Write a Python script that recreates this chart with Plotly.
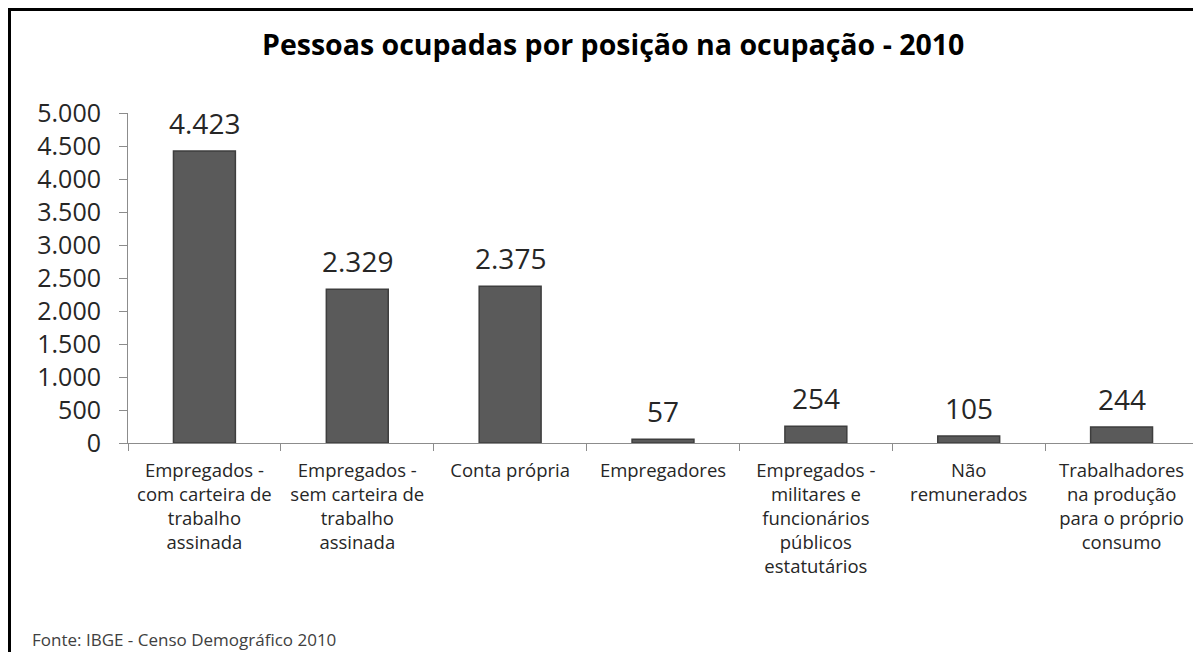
import plotly.graph_objects as go

categories = [
    "Empregados -<br>com carteira de<br>trabalho<br>assinada",
    "Empregados -<br>sem carteira de<br>trabalho<br>assinada",
    "Conta própria",
    "Empregadores",
    "Empregados -<br>militares e<br>funcionários<br>públicos<br>estatutários",
    "Não<br>remunerados",
    "Trabalhadores<br>na produção<br>para o próprio<br>consumo",
]
values = [4423, 2329, 2375, 57, 254, 105, 244]
value_labels = ["4.423", "2.329", "2.375", "57", "254", "105", "244"]
y_ticks = [0, 500, 1000, 1500, 2000, 2500, 3000, 3500, 4000, 4500, 5000]

# the page body adds an 8px offset; figure coordinates below are relative to the figure
W, H = 1193, 644
ml, mr, mt, mb = 120, 3, 105, 209
pw = W - ml - mr
ph = H - mt - mb


def px(fx):
    return (fx - ml) / pw


def py(fy):
    return 1 - (fy - mt) / ph


fig = go.Figure()
fig.add_trace(go.Bar(
    x=categories, y=values,
    marker=dict(color="#5a5a5a", line=dict(color="#3e3e3e", width=1.5)),
    hoverinfo="skip",
))

for c, v, t in zip(categories, values, value_labels):
    fig.add_annotation(x=c, y=v, text=t, showarrow=False, yshift=28, yanchor="middle",
                       font=dict(family="Open Sans", size=28, color="#262626"))

fig.add_annotation(xref="paper", yref="paper", x=px(605), y=py(36), yanchor="middle",
                   text="<b>Pessoas ocupadas por posição na ocupação - 2010</b>",
                   showarrow=False, font=dict(family="Open Sans", size=28.5, color="#000"))
fig.add_annotation(xref="paper", yref="paper", x=px(22), y=py(631), xanchor="left", yanchor="middle",
                   text="Fonte: IBGE - Censo Demográfico 2010",
                   showarrow=False, font=dict(family="Open Sans", size=17, color="#404040"))

# frame lines (top and left)
fig.add_shape(type="line", xref="paper", yref="paper",
              x0=px(1.5), x1=px(W + 5), y0=py(1.5), y1=py(1.5),
              line=dict(color="#000", width=3))
fig.add_shape(type="line", xref="paper", yref="paper",
              x0=px(1.5), x1=px(1.5), y0=py(0), y1=py(H + 5),
              line=dict(color="#000", width=3))

fig.update_layout(
    width=W, height=H,
    margin=dict(l=ml, r=mr, t=mt, b=mb),
    paper_bgcolor="white", plot_bgcolor="white",
    separators=",.",
    bargap=0.595,
    showlegend=False,
    font=dict(family="Open Sans", color="#262626"),
)
fig.update_xaxes(
    showline=True, linecolor="#8c8c8c", linewidth=1,
    ticks="outside", tickson="boundaries", ticklen=7, tickcolor="#8c8c8c",
    tickfont=dict(family="Open Sans", size=18.5, color="#262626"),
    ticklabelstandoff=11,
    tickangle=0, showgrid=False,
)
fig.update_yaxes(
    range=[0, 5000], tickvals=y_ticks, tickformat=",d",
    showline=True, linecolor="#8c8c8c", linewidth=1,
    ticks="outside", ticklen=8, tickcolor="#8c8c8c",
    tickfont=dict(family="Open Sans", size=25, color="#262626"),
    ticklabelstandoff=13,
    showgrid=False, zeroline=False,
)

fig.write_html("out.html")
